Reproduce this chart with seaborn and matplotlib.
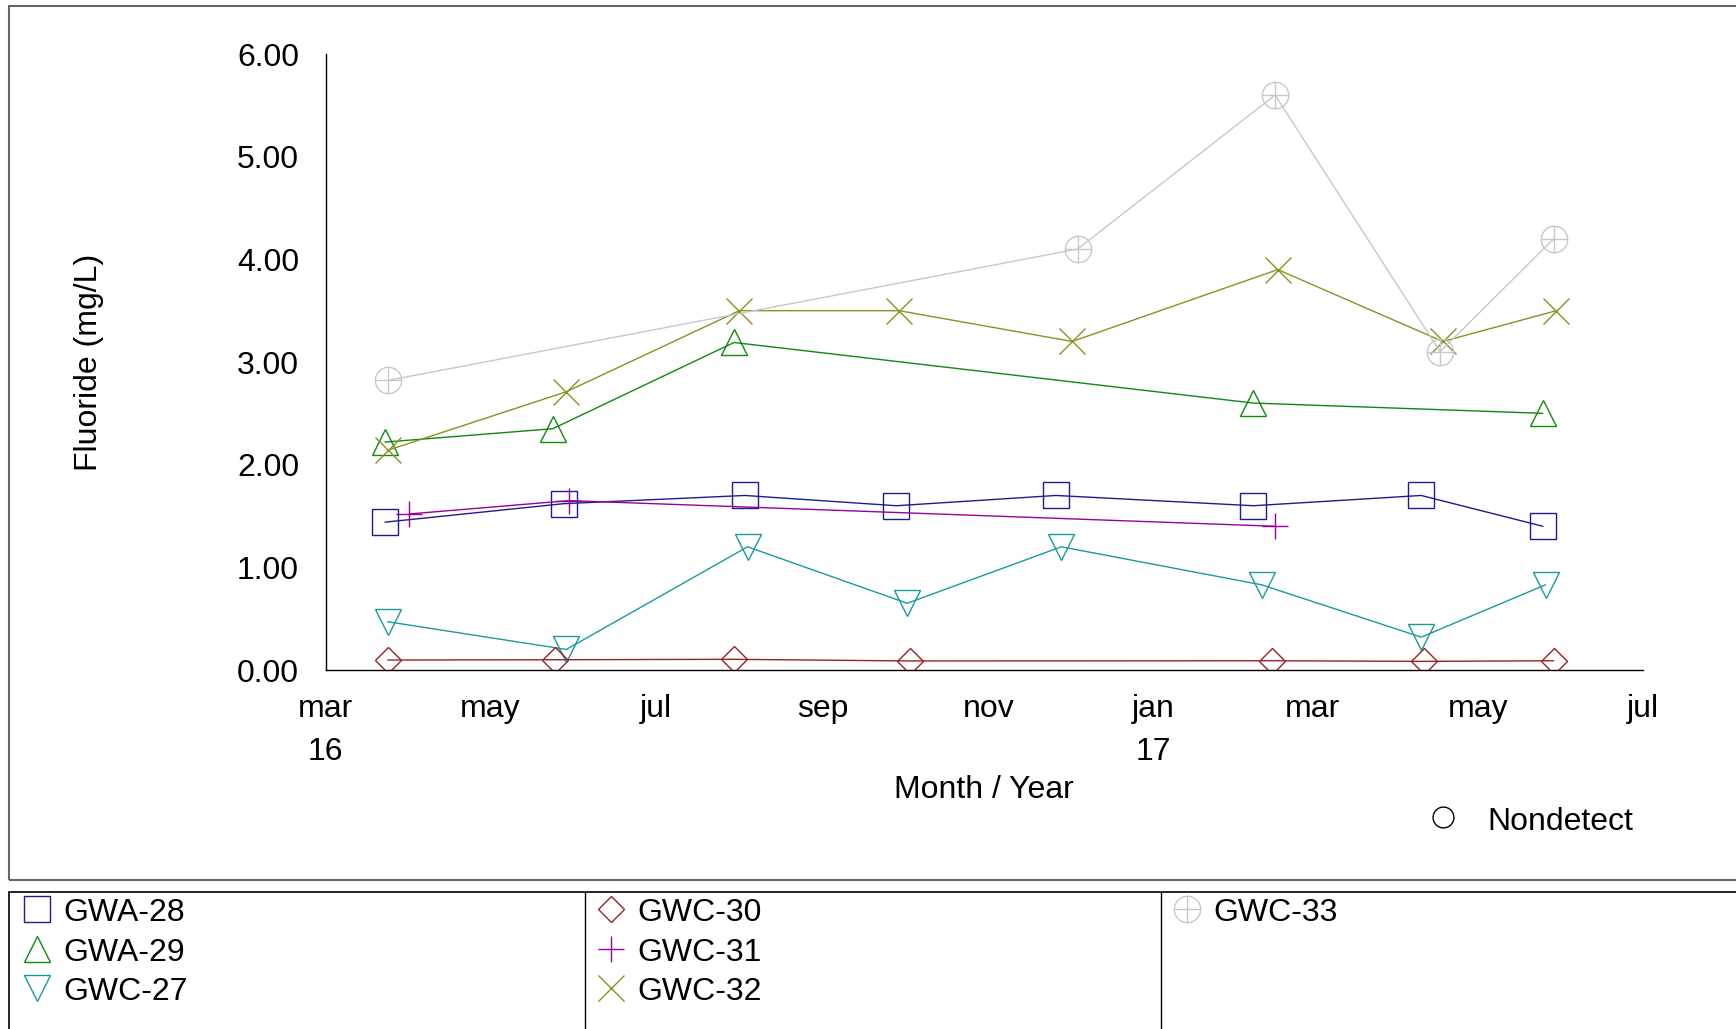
import pandas as pd
import matplotlib
matplotlib.use("Agg")
import matplotlib.pyplot as plt
from matplotlib.lines import Line2D
from matplotlib.patches import Rectangle
from matplotlib.path import Path
import seaborn as sns

# ---------------- data ----------------
wells = ["GWA-28", "GWA-29", "GWC-27", "GWC-30", "GWC-31", "GWC-32", "GWC-33"]

gwa28_dates = ["2016-03-23", "2016-05-28", "2016-08-03", "2016-09-28",
               "2016-11-26", "2017-02-07", "2017-04-10", "2017-05-25"]
gwa28_vals = [1.44, 1.62, 1.70, 1.60, 1.70, 1.60, 1.70, 1.40]

gwa29_dates = ["2016-03-23", "2016-05-24", "2016-07-30", "2017-02-07", "2017-05-25"]
gwa29_vals = [2.22, 2.35, 3.19, 2.60, 2.50]

gwc27_dates = ["2016-03-24", "2016-05-29", "2016-08-04", "2016-10-02",
               "2016-11-28", "2017-02-10", "2017-04-10", "2017-05-26"]
gwc27_vals = [0.47, 0.20, 1.20, 0.65, 1.20, 0.83, 0.32, 0.83]

gwc30_dates = ["2016-03-24", "2016-05-25", "2016-07-30", "2016-10-03",
               "2017-02-14", "2017-04-11", "2017-05-29"]
gwc30_vals = [0.097, 0.10, 0.104, 0.088, 0.09, 0.084, 0.09]

gwc31_dates = ["2016-04-01", "2016-05-30", "2017-02-15"]
gwc31_vals = [1.52, 1.65, 1.40]

gwc32_dates = ["2016-03-24", "2016-05-29", "2016-08-01", "2016-09-29",
               "2016-12-02", "2017-02-16", "2017-04-18", "2017-05-30"]
gwc32_vals = [2.14, 2.71, 3.50, 3.50, 3.20, 3.90, 3.20, 3.50]

gwc33_dates = ["2016-03-24", "2016-12-04", "2017-02-15", "2017-04-17", "2017-05-29"]
gwc33_vals = [2.82, 4.10, 5.60, 3.10, 4.20]

tick_dates = ["2016-03-01", "2016-05-01", "2016-07-01", "2016-09-01", "2016-11-01",
              "2017-01-01", "2017-03-01", "2017-05-01", "2017-07-01"]
tick_labels = ["mar\n16", "may", "jul", "sep", "nov", "jan\n17", "mar", "may", "jul"]

series = {
    "GWA-28": (gwa28_dates, gwa28_vals),
    "GWA-29": (gwa29_dates, gwa29_vals),
    "GWC-27": (gwc27_dates, gwc27_vals),
    "GWC-30": (gwc30_dates, gwc30_vals),
    "GWC-31": (gwc31_dates, gwc31_vals),
    "GWC-32": (gwc32_dates, gwc32_vals),
    "GWC-33": (gwc33_dates, gwc33_vals),
}

frames = []
for well, (d, v) in series.items():
    frames.append(pd.DataFrame({"well": well, "date": pd.to_datetime(d), "fluoride": v}))
df = pd.concat(frames, ignore_index=True)

# ---------------- style ----------------
sns.set_theme(style="white")
plt.rcParams["font.family"] = ["Liberation Sans", "DejaVu Sans"]

# circle with a cross inside
circle_plus = Path.make_compound_path(
    Path.unit_circle(),
    Path([(-1, 0), (1, 0)], [Path.MOVETO, Path.LINETO]),
    Path([(0, -1), (0, 1)], [Path.MOVETO, Path.LINETO]),
)

colors = {
    "GWA-28": "#1c1c90",
    "GWA-29": "#118811",
    "GWC-27": "#1a9a9a",
    "GWC-30": "#992222",
    "GWC-31": "#990099",
    "GWC-32": "#8f8f1f",
    "GWC-33": "#c8c8c8",
}
markers = {
    "GWA-28": ("s", 19),
    "GWA-29": ("^", 19),
    "GWC-27": ("v", 19),
    "GWC-30": ("D", 13.5),
    "GWC-31": ("+", 19),
    "GWC-32": ("x", 19),
    "GWC-33": (circle_plus, 19),
}

FS = 23
W, H = 1736, 1029

fig = plt.figure(figsize=(W / 100, H / 100), dpi=100)
ax = fig.add_axes([325.5 / W, 1 - 670 / H, (1643 - 325.5) / W, 616 / H])

for well in wells:
    sub = df[df["well"] == well]
    m, ms = markers[well]
    sns.lineplot(data=sub, x="date", y="fluoride", ax=ax, color=colors[well],
                 marker=m, markersize=ms, markerfacecolor="none",
                 markeredgecolor=colors[well], markeredgewidth=1.0,
                 linewidth=1.0, legend=False)

ax.set_xlim(pd.Timestamp(tick_dates[0]), pd.Timestamp(tick_dates[-1]))
ax.set_ylim(0, 6)
ax.set_yticks([0, 1, 2, 3, 4, 5, 6])
ax.set_yticklabels([f"{v:.2f}" for v in range(7)])
ax.set_xticks(pd.to_datetime(tick_dates))
ax.set_xticklabels(tick_labels, linespacing=1.6)

for side in ["top", "right"]:
    ax.spines[side].set_visible(False)
for side in ["left", "bottom"]:
    ax.spines[side].set_color("black")
    ax.spines[side].set_linewidth(1.0)

ax.tick_params(axis="both", which="major", labelsize=FS, colors="#666666",
               labelcolor="black", length=12, width=1.2, direction="out")
ax.tick_params(axis="y", pad=7)
ax.tick_params(axis="x", pad=5)
ax.grid(False)

ax.set_ylabel("Fluoride (mg/L)", fontsize=FS, color="black")
ax.yaxis.label.set_va("center")
ax.yaxis.set_label_coords((88.6 - 325.5) / 1317.5, 0.5)
ax.set_xlabel("Month / Year", fontsize=FS, color="black")
ax.xaxis.label.set_va("baseline")
ax.xaxis.set_label_coords(0.5, (670 - 798) / 616)

# ---------------- frames ----------------
fig.add_artist(Rectangle((9 / W, 1 - 880 / H), 1.0, (880 - 5.5) / H,
                         transform=fig.transFigure, fill=False,
                         edgecolor="#666666", linewidth=1.5))
fig.add_artist(Rectangle((9 / W, -0.05), 1.0, 0.05 + 1 - 892 / H,
                         transform=fig.transFigure, fill=False,
                         edgecolor="black", linewidth=1.2))
for xd in [584.6, 1161.4]:
    fig.add_artist(Line2D([xd / W, xd / W], [0, 1 - 892 / H],
                          transform=fig.transFigure, color="black", linewidth=1.0))

# ---------------- legend ----------------
col_x = [36.5, 611, 1187]
row_y = [909, 949, 988]
for i, well in enumerate(wells):
    c, r = i // 3, i % 3
    m, ms = markers[well]
    fig.add_artist(Line2D([col_x[c] / W], [1 - row_y[r] / H], transform=fig.transFigure,
                          linestyle="none", marker=m, markersize=ms,
                          markerfacecolor="none", markeredgecolor=colors[well],
                          markeredgewidth=1.0))
    fig.text((col_x[c] + 26.5) / W, 1 - (row_y[r] + 12) / H, well,
             fontsize=FS, va="baseline", ha="left", color="black")

# nondetect key
fig.add_artist(Line2D([1443 / W], [1 - 817 / H], transform=fig.transFigure,
                      linestyle="none", marker="o", markersize=15,
                      markerfacecolor="none", markeredgecolor="black",
                      markeredgewidth=1.0))
fig.text(1487 / W, 1 - 830 / H, "Nondetect", fontsize=FS, va="baseline",
         ha="left", color="black")

fig.savefig("out.png", dpi=100)
